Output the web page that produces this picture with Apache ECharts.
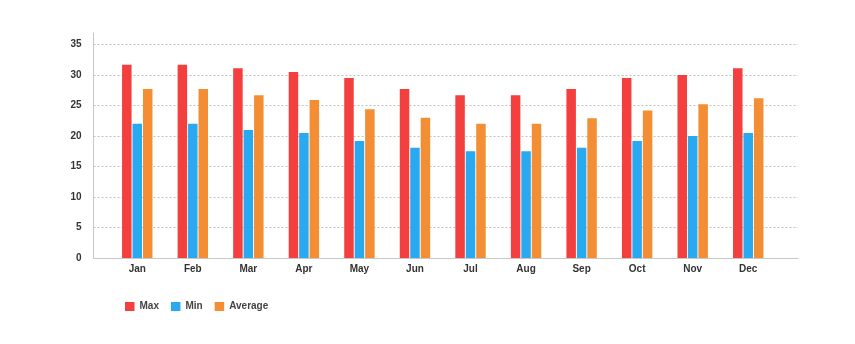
<!DOCTYPE html>
<html>
<head>
<meta charset="utf-8">
<script src="https://cdn.jsdelivr.net/npm/echarts@6/dist/echarts.min.js"></script>
<style>
html,body{margin:0;padding:0;background:#fff;}
#chart{width:855px;height:344px;}
</style>
</head>
<body>
<div id="chart"></div>
<script>
const months = ['Jan','Feb','Mar','Apr','May','Jun','Jul','Aug','Sep','Oct','Nov','Dec'];
const maxTemps = [31.7, 31.7, 31.1, 30.5, 29.5, 27.7, 26.7, 26.7, 27.7, 29.5, 30, 31.1];
const minTemps = [22, 22, 21, 20.5, 19.2, 18.1, 17.5, 17.5, 18.1, 19.2, 20, 20.5];
const avgTemps = [27.7, 27.7, 26.7, 25.9, 24.4, 23, 22, 22, 22.9, 24.2, 25.2, 26.2];
const seriesNames = ['Max', 'Min', 'Average'];
const seriesColors = ['#f43f3f', '#29a9ef', '#f38e34'];
const yTicks = [0, 5, 10, 15, 20, 25, 30, 35];

const yMax = 36.9;
const font = 'Liberation Sans, Arial, sans-serif';
const chart = echarts.init(document.getElementById('chart'), null, {renderer: 'canvas'});
const values = [maxTemps, minTemps, avgTemps];

chart.setOption({
  animation: false,
  backgroundColor: '#fff',
  grid: [
    {left: 93.5, right: 57, top: 33, bottom: 86, containLabel: false},
    {left: 109.5, right: 79, top: 33, bottom: 86, containLabel: false}
  ],
  legend: {
    left: 120, top: 296.5,
    itemWidth: 9.5, itemHeight: 9, itemGap: 12,
    icon: 'rect',
    textStyle: {fontFamily: font, fontWeight: 'bold', fontSize: 10, color: '#444'},
    data: seriesNames
  },
  xAxis: [
    {gridIndex: 0, type: 'value', min: 0, max: 1,
     axisLine: {show: true, onZero: false, lineStyle: {color: '#c8c8c8', width: 1}},
     axisTick: {show: false}, axisLabel: {show: false}, splitLine: {show: false}},
    {gridIndex: 1, type: 'category', data: months,
     axisLine: {show: false}, axisTick: {show: false},
     axisLabel: {margin: 6, fontFamily: font, fontWeight: 'bold', fontSize: 10, color: '#333'},
     splitLine: {show: false}}
  ],
  yAxis: [
    {gridIndex: 0, type: 'value', min: 0, max: yMax, interval: 5,
     axisLine: {show: true, lineStyle: {color: '#c8c8c8', width: 1}},
     axisTick: {show: false},
     axisLabel: {margin: 12, fontFamily: font, fontWeight: 'bold', fontSize: 10, color: '#333',
       showMaxLabel: false,
       formatter: v => yTicks.indexOf(v) >= 0 ? String(v) : ''},
     splitLine: {show: true, showMinLine: false, showMaxLine: false,
       lineStyle: {color: '#c0c0c0', type: [2, 2], width: 1}}},
    {gridIndex: 1, type: 'value', min: 0, max: yMax, show: false, splitLine: {show: false}}
  ],
  series: seriesNames.map((name, i) => ({
    name: name,
    type: 'bar',
    xAxisIndex: 1, yAxisIndex: 1,
    data: values[i],
    barWidth: 9.5,
    barGap: '10%',
    itemStyle: {color: seriesColors[i]}
  })),
  color: seriesColors
});
</script>
</body>
</html>
